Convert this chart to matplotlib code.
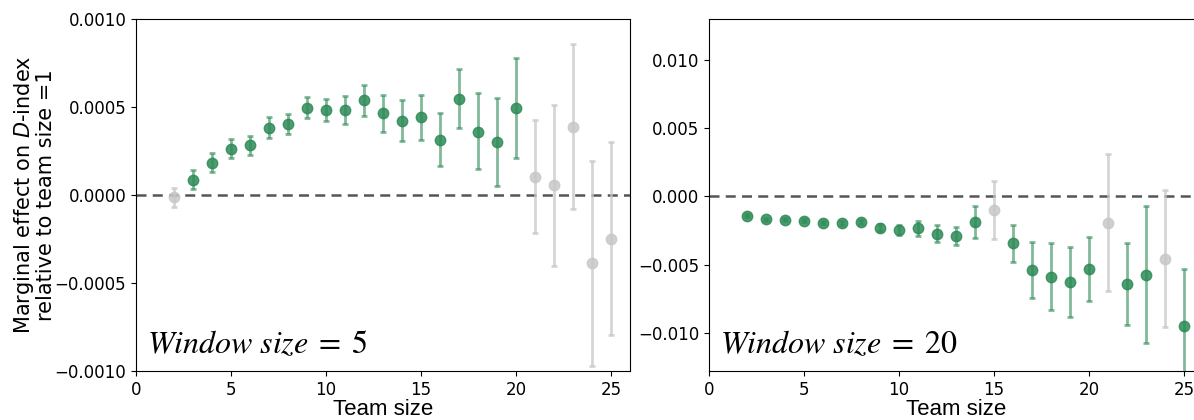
import matplotlib
matplotlib.use("Agg")
import matplotlib.pyplot as plt
import numpy as np

plt.rcParams['mathtext.fontset'] = 'stix'

team_size = list(range(2, 26))

# Window size = 5
w5_mean = [-0.000013, 0.000087, 0.000183, 0.000264, 0.000283, 0.000383, 0.000406,
           0.000496, 0.000483, 0.000483, 0.000538, 0.000464, 0.000423, 0.000441,
           0.000313, 0.000547, 0.000358, 0.000302, 0.000492,
           0.000104, 0.000055, 0.000385, -0.000389, -0.000249]
w5_upper = [0.00004, 0.00014, 0.000236, 0.000317, 0.000338, 0.000441, 0.000462,
            0.000558, 0.000547, 0.00056, 0.000623, 0.000566, 0.000541, 0.000566,
            0.000468, 0.000717, 0.000577, 0.000553, 0.000777,
            0.000424, 0.000509, 0.000856, 0.000194, 0.0003]
w5_lower = [-0.000066, 0.0000357, 0.000128, 0.000211, 0.00023, 0.000326, 0.000349,
            0.000438, 0.000421, 0.000406, 0.000451, 0.00036, 0.000307, 0.000315,
            0.000162, 0.000379, 0.000147, 0.000051, 0.000213,
            -0.000217, -0.000404, -0.000081, -0.00097, -0.000796]
w5_signif = [False] + [True] * 18 + [False] * 5

# Window size = 20
w20_mean = [-0.00141, -0.00167, -0.00172, -0.00179, -0.00194, -0.00194, -0.00187,
            -0.0023, -0.0025, -0.00233, -0.00279, -0.00291, -0.00189, -0.00102,
            -0.00344, -0.00541, -0.0059, -0.0063, -0.00534, -0.00194,
            -0.00643, -0.00577, -0.00456, -0.00951]
w20_upper = [-0.00131, -0.00155, -0.0016, -0.00167, -0.00182, -0.0018, -0.00173,
             -0.00205, -0.00208, -0.00177, -0.00211, -0.00226, -0.00073, 0.00112,
             -0.00211, -0.00332, -0.00339, -0.00373, -0.003, 0.00309,
             -0.00339, -0.00073, 0.00047, -0.00529]
w20_lower = [-0.00151, -0.00179, -0.00184, -0.00191, -0.00206, -0.00208, -0.00201,
             -0.00255, -0.00286, -0.00288, -0.00337, -0.00354, -0.00303, -0.00315,
             -0.00478, -0.00747, -0.00834, -0.00885, -0.00769, -0.00696,
             -0.00944, -0.01075, -0.00956, -0.0137]
w20_signif = [True] * 13 + [False] + [True] * 5 + [False] + [True] * 2 + [False] + [True]

panel_labels = [r"$Window\ size\;=\;5$", r"$Window\ size\;=\;20$"]
ylims = [(-0.001, 0.001), (-0.0128, 0.013)]
yticks = [[-0.001, -0.0005, 0.0, 0.0005, 0.001], [-0.01, -0.005, 0.0, 0.005, 0.01]]
yfmt = ["{:.4f}", "{:.3f}"]

GREEN = "#2e8b57"
GRAY = "#c8c8c8"

fig = plt.figure(figsize=(11.94, 4.2), dpi=100)
ax1 = fig.add_axes([136 / 1194, 1 - 371 / 420, 494 / 1194, 352 / 420])
ax2 = fig.add_axes([709 / 1194, 1 - 371 / 420, 494 / 1194, 352 / 420])

datasets = [(w5_mean, w5_upper, w5_lower, w5_signif),
            (w20_mean, w20_upper, w20_lower, w20_signif)]

for i, (ax, (m, up, lo, sig)) in enumerate(zip([ax1, ax2], datasets)):
    m = np.array(m); up = np.array(up); lo = np.array(lo); sig = np.array(sig)
    x = np.array(team_size)
    ax.axhline(0, color="#555555", lw=1.8, ls=(0, (4, 2.5)), zorder=1)
    for mask, col in [(~sig, GRAY), (sig, GREEN)]:
        if mask.sum() == 0:
            continue
        yerr = np.vstack([m[mask] - lo[mask], up[mask] - m[mask]])
        ax.errorbar(x[mask], m[mask], yerr=yerr, fmt="none", ecolor=col,
                    elinewidth=2, capsize=2.2, capthick=2,
                    alpha=0.6 if col == GREEN else 0.75, zorder=2)
        ax.plot(x[mask], m[mask], "o", color=col, ms=7.5, alpha=0.85,
                mec=col, zorder=3)
    ax.set_xlim(0, 26)
    ax.set_ylim(*ylims[i])
    ax.set_xticks([0, 5, 10, 15, 20, 25])
    ax.set_yticks(yticks[i])
    ax.set_yticklabels([yfmt[i].format(v).replace("-", "\u2212") for v in yticks[i]])
    ax.tick_params(labelsize=12)
    ax.set_xlabel("Team size", fontsize=16, family="Liberation Sans", labelpad=0)
    ax.text(0.022, 0.05, panel_labels[i], transform=ax.transAxes, fontsize=23,
            ha="left", va="baseline")

ax1.set_ylabel("Marginal effect on $D$-index\nrelative to team size =1",
               fontsize=15, linespacing=1.0, labelpad=-1,
               math_fontfamily="dejavusans")

fig.savefig("out.png", dpi=100)
